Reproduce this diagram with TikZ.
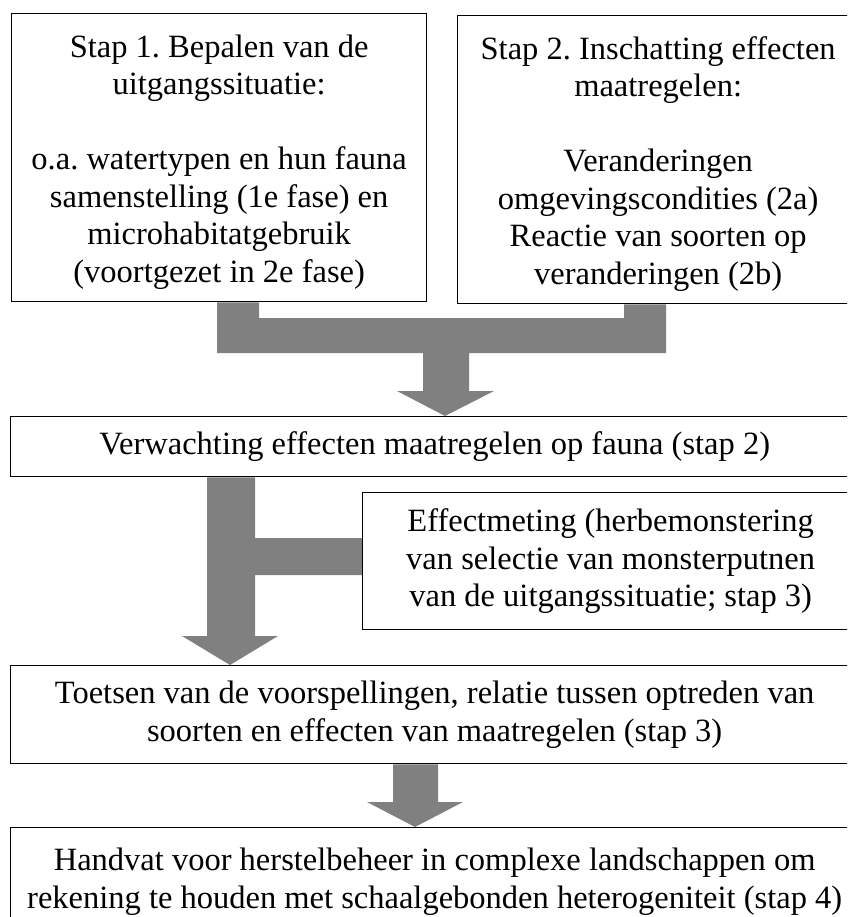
\documentclass[tikz,border=0pt]{standalone}
\usepackage{fontspec}
\setmainfont{Liberation Serif}
\frenchspacing
\usetikzlibrary{calc}
\pgfdeclarelayer{achter}
\pgfsetlayers{achter,main}
\definecolor{pijlgrijs}{RGB}{128,128,128}
\tikzset{
    vak/.style={draw=black, line width=1.3pt, rectangle, anchor=north west, align=center, inner sep=0pt, font=\fontsize{32.5}{37.5}\selectfont},
    blok/.style={fill=pijlgrijs}
}

\begin{document}
\begin{tikzpicture}[x=1pt,y=-1pt]
            \useasboundingbox (0,0) rectangle (847,917);
            \clip (0,0) rectangle (847,917);

            %vakken
            \node[vak, minimum width=415pt, minimum height=288pt] (stap1) at (11,13) {\rule{0pt}{31pt}Stap 1. Bepalen van de\\ uitgangssituatie:\\[37.5pt] o.a. watertypen en hun fauna\\ samenstelling (1e fase) en\\ microhabitatgebruik\\ (voortgezet in 2e fase)};
            \node[vak, minimum width=401pt, minimum height=288pt] (stap2) at (457,15) {\rule{0pt}{31pt}Stap 2. Inschatting effecten\\ maatregelen:\\[37.5pt] Veranderingen\\ omgevingscondities (2a)\\ Reactie van soorten op\\ veranderingen (2b)};
            \node[vak, minimum width=848pt, minimum height=60pt] (verw) at (10,416) {Verwachting effecten maatregelen op fauna (stap 2)};
            \node[vak, minimum width=496pt, minimum height=137pt] (effect) at (362,492) {Effectmeting (herbemonstering\\ van selectie van monsterputnen\\ van de uitgangssituatie; stap 3)};
            \node[vak, minimum width=848pt, minimum height=98pt] (toets) at (10,665) {Toetsen van de voorspellingen, relatie tussen optreden van\\ soorten en effecten van maatregelen (stap 3)};
            \node[vak, minimum width=848pt, minimum height=108pt] (handvat) at (10,827) {Handvat voor herstelbeheer in complexe landschappen om\\ rekening te houden met schaalgebonden heterogeniteit (stap 4)};

            %grijze pijlen
            \begin{pgfonlayer}{achter}
                \fill[blok] (217,0 |- stap1.south) -| (259,318) -| (624,0 |- stap2.south) -| (666,353) -| (469,391) -- ++(25,0) -- (445,0 |- verw.north) -- (397,391) -- ++(26,0) |- (217,353) -- cycle;
                \fill[blok] (207,0 |- verw.south) -- (255,0 |- verw.south) -- (255,538) -- (effect.west |- 0,538) -- (effect.west |- 0,575) -- (255,575) -- (255,636) -- (278,636) -- (230,0 |- toets.north) -- (182,636) -- (207,636) -- cycle;
                \fill[blok] (393,0 |- toets.south) -- (393,802) -- (367,802) -- (415,0 |- handvat.north) -- (463,802) -- (438,802) -- (438,0 |- toets.south) -- cycle;
            \end{pgfonlayer}
        \end{tikzpicture}
\end{document}
